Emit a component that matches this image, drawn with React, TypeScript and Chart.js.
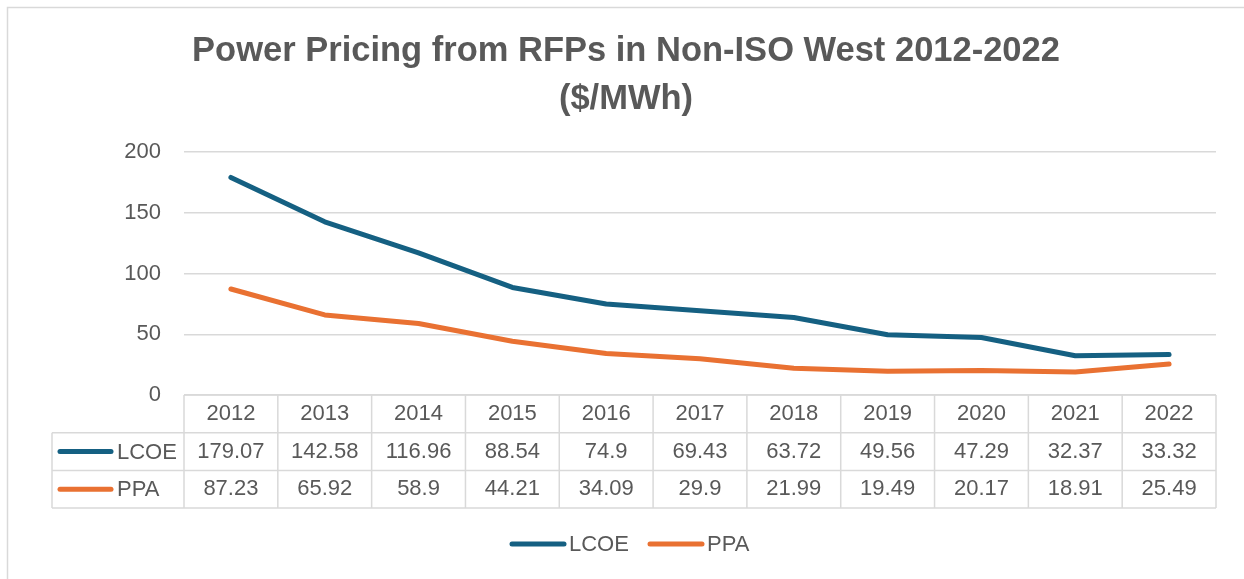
import React, { useEffect, useRef } from "react";
import { Chart, registerables } from "chart.js";

Chart.register(...registerables);

const categories = ["2012", "2013", "2014", "2015", "2016", "2017", "2018", "2019", "2020", "2021", "2022"];
const lcoe = [179.07, 142.58, 116.96, 88.54, 74.9, 69.43, 63.72, 49.56, 47.29, 32.37, 33.32];
const ppa = [87.23, 65.92, 58.9, 44.21, 34.09, 29.9, 21.99, 19.49, 20.17, 18.91, 25.49];
const seriesNames = ["LCOE", "PPA"];
const seriesColors = ["#156082", "#E97132"];
const yTicks = [0, 50, 100, 150, 200];
const titleLines = ["Power Pricing from RFPs in Non-ISO West 2012-2022", "($/MWh)"];

const W = 1244;
const H = 579;
const FONT = "'Liberation Sans', Arial, sans-serif";
const TEXT = "#595959";
const GRID = "#D9D9D9";

const decorPlugin = {
  id: "decor",
  beforeDraw(chart: any) {
    const ctx = chart.ctx;
    ctx.save();
    ctx.strokeStyle = GRID;
    ctx.lineWidth = 1.5;
    ctx.beginPath();
    ctx.moveTo(7.5, H + 5);
    ctx.lineTo(7.5, 7.5);
    ctx.lineTo(W + 5, 7.5);
    ctx.stroke();
    // title
    ctx.fillStyle = TEXT;
    ctx.textAlign = "center";
    ctx.textBaseline = "middle";
    ctx.font = `bold 34.5px ${FONT}`;
    ctx.fillText(titleLines[0], 626, 51);
    ctx.fillText(titleLines[1], 626, 99);
    ctx.restore();
  },
  afterDraw(chart: any) {
    const ctx = chart.ctx;
    const xs = chart.scales.x;
    const area = chart.chartArea;
    const n = categories.length;
    const colW = (area.right - area.left) / n;
    const top = area.bottom;
    const rowH = 37.7;
    const tableLeft = 52;
    const rows = [top, top + rowH, top + 2 * rowH, top + 3 * rowH];
    ctx.save();
    ctx.strokeStyle = GRID;
    ctx.lineWidth = 1.5;
    ctx.beginPath();
    ctx.moveTo(area.left, rows[0]);
    ctx.lineTo(area.right, rows[0]);
    for (let r = 1; r < 4; r++) {
      ctx.moveTo(tableLeft, rows[r]);
      ctx.lineTo(area.right, rows[r]);
    }
    ctx.moveTo(tableLeft, rows[1]);
    ctx.lineTo(tableLeft, rows[3]);
    for (let i = 0; i <= n; i++) {
      const x = area.left + i * colW;
      ctx.moveTo(x, rows[0]);
      ctx.lineTo(x, rows[3]);
    }
    ctx.stroke();

    ctx.fillStyle = TEXT;
    ctx.font = `22px ${FONT}`;
    ctx.textBaseline = "middle";
    ctx.textAlign = "center";
    const data = [lcoe, ppa];
    categories.forEach((c, i) => {
      const cx = xs.getPixelForValue(i);
      ctx.fillText(c, cx, (rows[0] + rows[1]) / 2);
      data.forEach((d, k) => {
        ctx.fillText(String(d[i]), cx, (rows[k + 1] + rows[k + 2]) / 2);
      });
    });
    seriesNames.forEach((name, k) => {
      const cy = (rows[k + 1] + rows[k + 2]) / 2;
      ctx.strokeStyle = seriesColors[k];
      ctx.lineWidth = 5;
      ctx.lineCap = "round";
      ctx.beginPath();
      ctx.moveTo(60, cy);
      ctx.lineTo(111, cy);
      ctx.stroke();
      ctx.textAlign = "left";
      ctx.fillText(name, 117, cy + 1);
    });
    const legendY = 544;
    const legendX = [510, 648];
    seriesNames.forEach((name, k) => {
      const x0 = legendX[k];
      ctx.strokeStyle = seriesColors[k];
      ctx.lineWidth = 5;
      ctx.lineCap = "round";
      ctx.beginPath();
      ctx.moveTo(x0 + 2, legendY);
      ctx.lineTo(x0 + 54, legendY);
      ctx.stroke();
      ctx.textAlign = "left";
      ctx.fillText(name, x0 + 59, legendY + 1);
    });
    ctx.restore();
  },
};

export default function App() {
  const ref = useRef<HTMLCanvasElement | null>(null);
  useEffect(() => {
    document.body.style.margin = "0";
    document.body.style.overflow = "hidden";
    const canvas = ref.current;
    if (!canvas) return;
    const chart = new Chart(canvas, {
      type: "line",
      data: {
        labels: categories,
        datasets: [
          {
            label: seriesNames[0],
            data: lcoe,
            borderColor: seriesColors[0],
            backgroundColor: seriesColors[0],
            borderWidth: 5,
            pointRadius: 0,
            borderCapStyle: "round",
            borderJoinStyle: "round",
            tension: 0,
          },
          {
            label: seriesNames[1],
            data: ppa,
            borderColor: seriesColors[1],
            backgroundColor: seriesColors[1],
            borderWidth: 5,
            pointRadius: 0,
            borderCapStyle: "round",
            borderJoinStyle: "round",
            tension: 0,
          },
        ],
      },
      options: {
        animation: false,
        responsive: false,
        devicePixelRatio: 1,
        layout: { padding: { top: 152, bottom: H - 395, left: 0, right: W - 1216 } },
        plugins: { legend: { display: false }, title: { display: false }, tooltip: { enabled: false } },
        events: [],
        scales: {
          x: { type: "category", display: false, offset: true },
          y: {
            min: 0,
            max: 200,
            afterFit: (s: any) => {
              s.width = 184;
            },
            afterBuildTicks: (s: any) => {
              s.ticks = yTicks.map((v) => ({ value: v }));
            },
            border: { display: false },
            grid: { color: GRID, lineWidth: 1.5, drawTicks: false },
            ticks: { padding: 23, color: TEXT, font: { family: FONT, size: 22 } },
          },
        },
      },
      plugins: [decorPlugin],
    });
    return () => chart.destroy();
  }, []);
  return (
    <div style={{ width: W, height: H }}>
      <canvas ref={ref} width={W} height={H} style={{ display: "block", width: W, height: H }} />
    </div>
  );
}
